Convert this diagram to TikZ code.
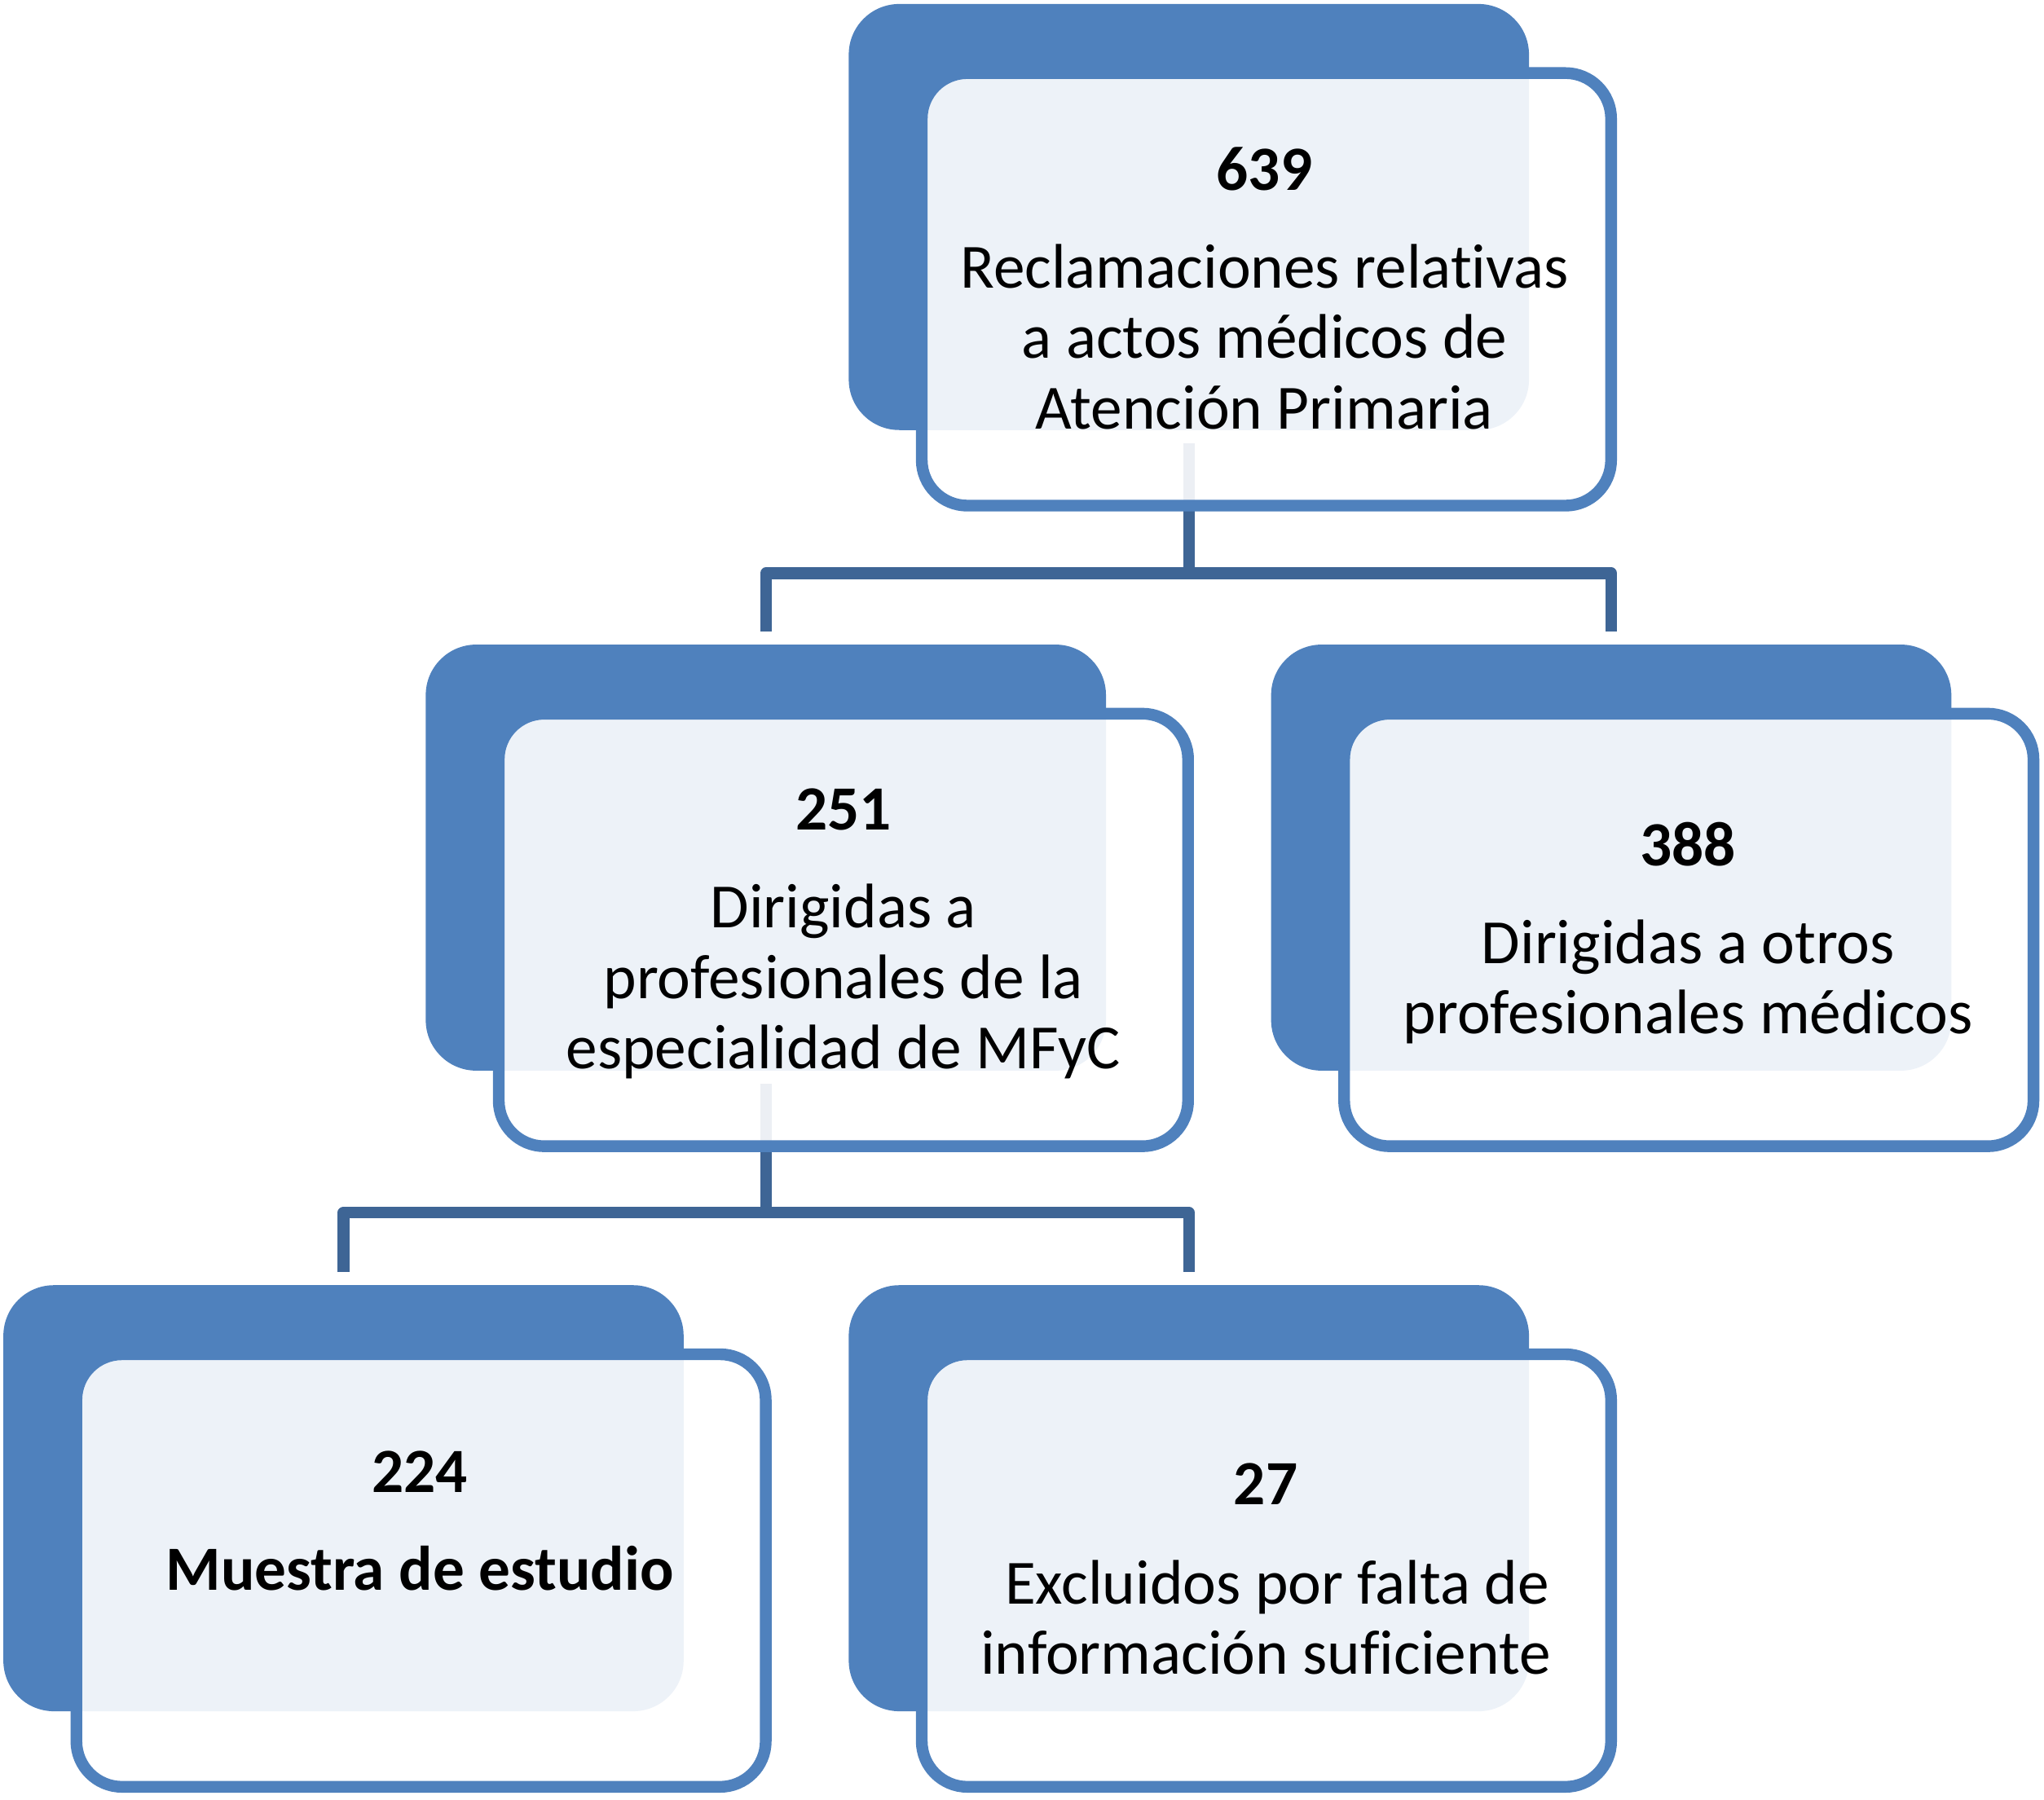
\documentclass[tikz,border=0pt]{standalone}
\usepackage{fontspec}
\setmainfont{Carlito}[Ligatures={NoCommon,NoRare}]
\usetikzlibrary{calc}
\definecolor{boxblue}{RGB}{79,129,189}
\definecolor{connblue}{RGB}{62,101,149}
\begin{document}
\begin{tikzpicture}[x=0.016cm,y=-0.016cm,
  backbox/.style={fill=boxblue, rounded corners=0.62cm, minimum width=8.352cm, minimum height=5.232cm, inner sep=0pt, outer sep=0pt},
  frontbox/.style={draw=boxblue, line width=4.1pt, fill=white, fill opacity=0.9, text opacity=1, rounded corners=0.56cm, minimum width=8.464cm, minimum height=5.312cm, inner sep=0pt, outer sep=0pt},
  conn/.style={draw=connblue, line width=4.1pt, line join=round},
  txt/.style={align=center, font=\fontsize{22}{24.6}\selectfont, inner sep=0pt, text=black}]
\fill[white] (0,0) rectangle (1568,1381);
\useasboundingbox (0,0) rectangle (1568,1381);
% back boxes
\node[backbox] (tb)  at (912,166.5) {};
\node[backbox] (lb)  at (587.5,658) {};
\node[backbox] (rb)  at (1236,658) {};
\node[backbox] (llb) at (263.5,1149.5) {};
\node[backbox] (lrb) at (912,1149.5) {};
% connectors
\draw[conn] ($(tb.south)+(0,10)$) -- ($(tb.south)+(0,110)$);
\draw[conn] ($(lb.north)+(0,-10)$) |- ($(tb.south)+(0,110)$) -| ($(rb.north)+(0,-10)$);
\draw[conn] ($(lb.south)+(0,10)$) -- ($(lb.south)+(0,109)$);
\draw[conn] ($(llb.north)+(0,-10)$) |- ($(lb.south)+(0,109)$) -| ($(lrb.north)+(0,-10)$);
% front boxes
\node[frontbox] (tf)  at (971.5,222) {};
\node[frontbox] (lf)  at (647,713.5) {};
\node[frontbox] (rf)  at (1295.5,713.5) {};
\node[frontbox] (llf) at (323,1205) {};
\node[frontbox] (lrf) at (971.5,1205) {};
% texts
\node[txt] (tt) at (970,221) {\textbf{639}\\[9.6pt]Reclamaciones relativas\\a actos médicos de\\Atención Primaria};
\node[txt] (lt) at (647,716.5) {\textbf{251}\\[9.6pt]Dirigidas a\\profesionales de la\\especialidad de MFyC};
\node[txt] (rt) at (1295,716) {\textbf{388}\\[9.6pt]Dirigidas a otros\\profesionales médicos};
\node[txt] (llt) at (322,1167) {\textbf{224}\\[9.6pt]\textbf{Muestra de estudio}};
\node[txt] (lrt) at (971,1204) {\textbf{27}\\[10pt]\hspace*{8pt}Excluidos por falta de\\información suficiente};
\end{tikzpicture}
\end{document}
